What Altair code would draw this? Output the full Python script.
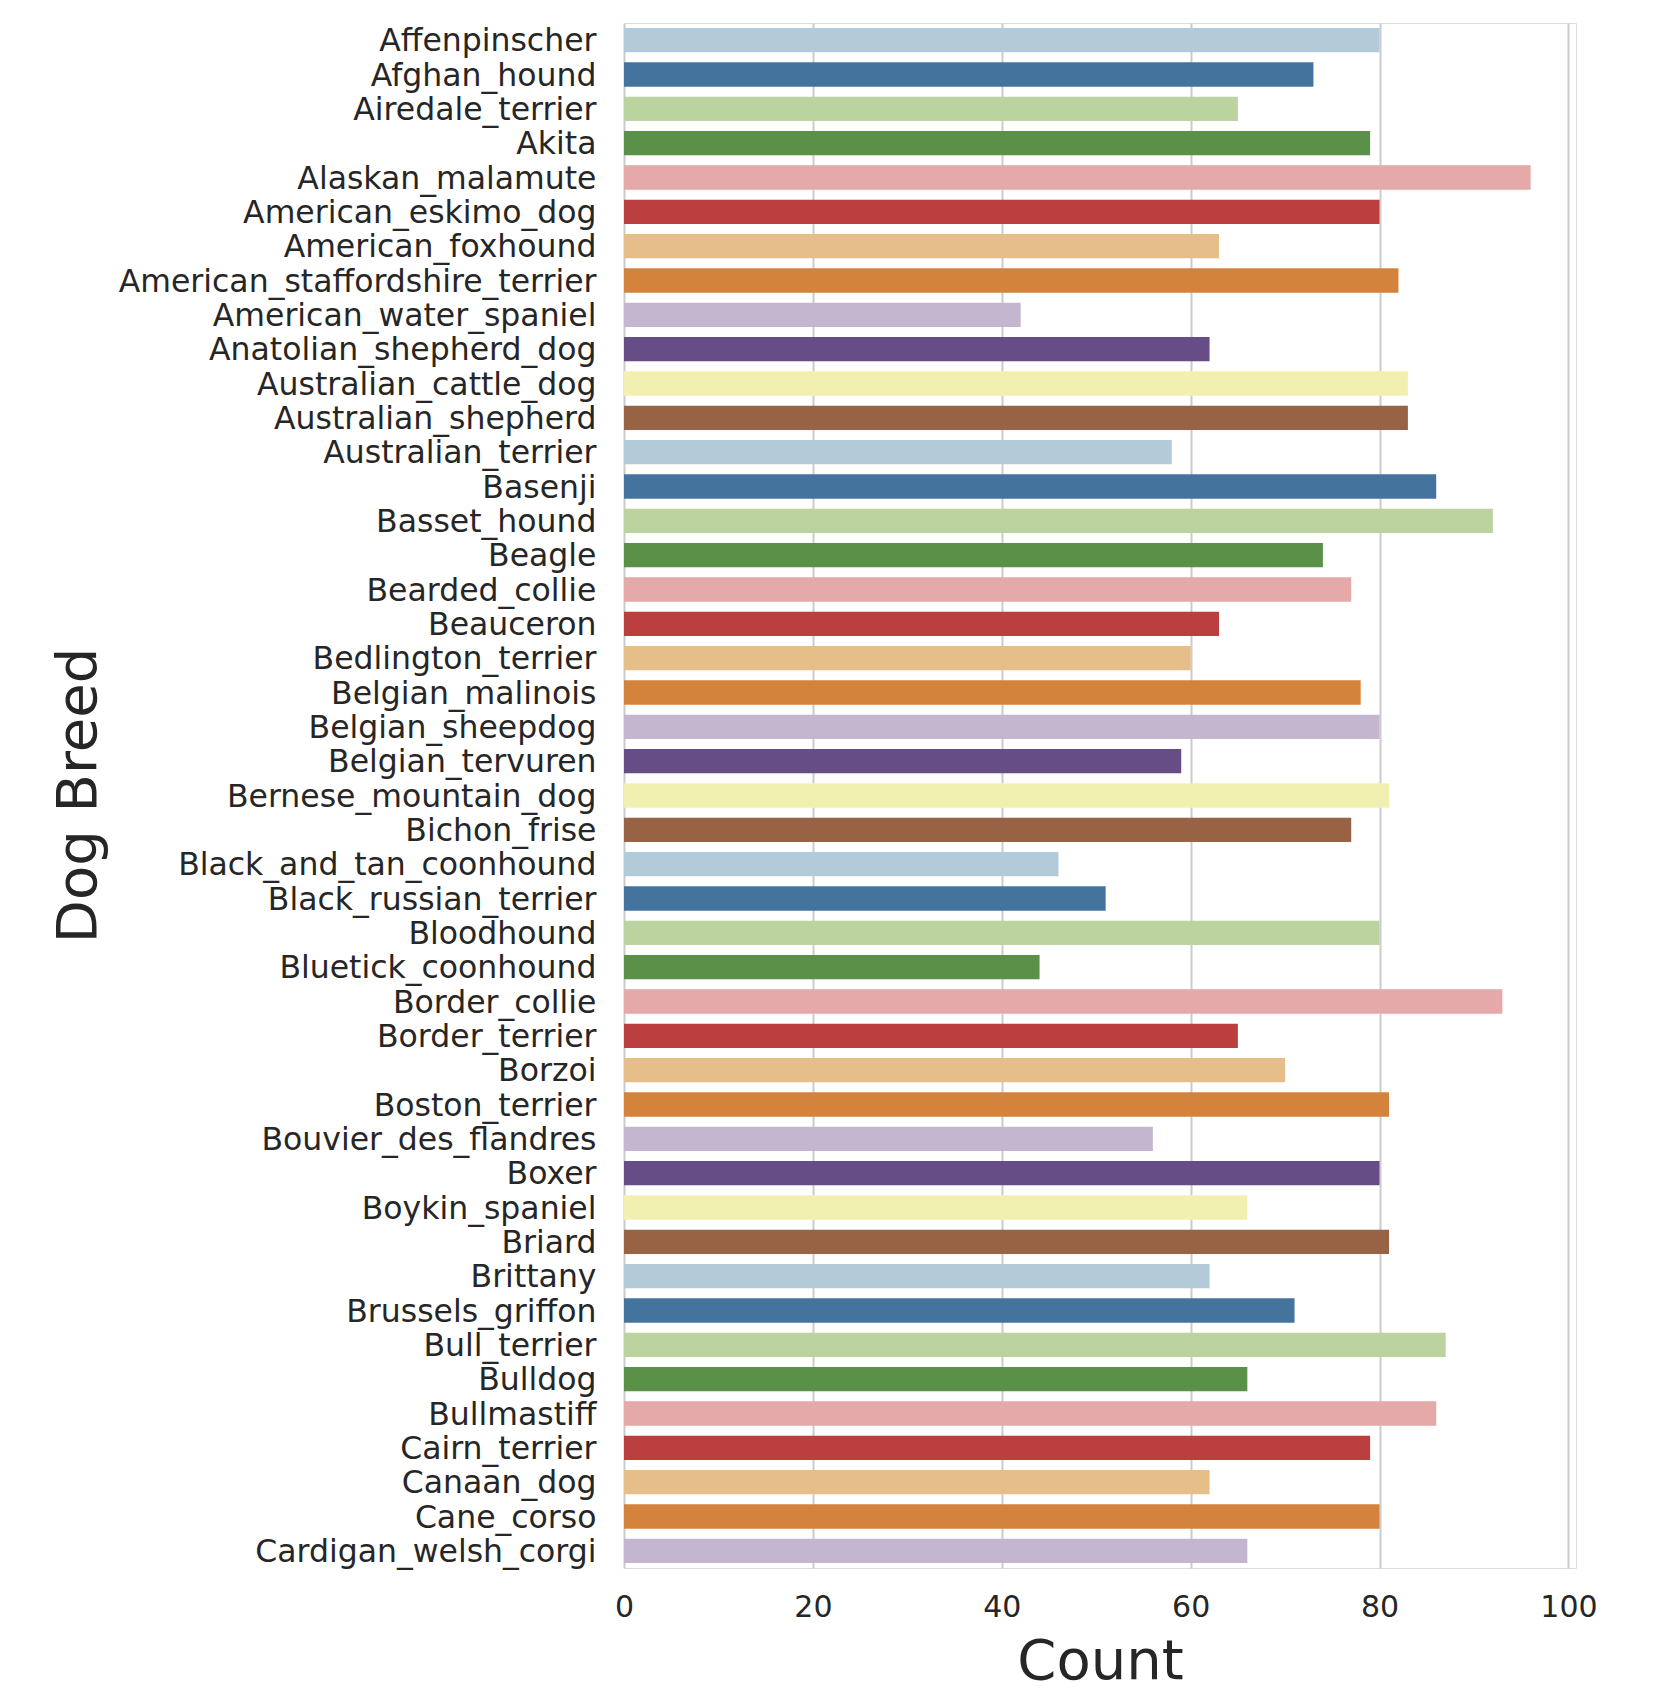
import altair as alt
import pandas as pd

breeds = [
    "Affenpinscher", "Afghan_hound", "Airedale_terrier", "Akita", "Alaskan_malamute",
    "American_eskimo_dog", "American_foxhound", "American_staffordshire_terrier",
    "American_water_spaniel", "Anatolian_shepherd_dog", "Australian_cattle_dog",
    "Australian_shepherd", "Australian_terrier", "Basenji", "Basset_hound", "Beagle",
    "Bearded_collie", "Beauceron", "Bedlington_terrier", "Belgian_malinois",
    "Belgian_sheepdog", "Belgian_tervuren", "Bernese_mountain_dog", "Bichon_frise",
    "Black_and_tan_coonhound", "Black_russian_terrier", "Bloodhound", "Bluetick_coonhound",
    "Border_collie", "Border_terrier", "Borzoi", "Boston_terrier", "Bouvier_des_flandres",
    "Boxer", "Boykin_spaniel", "Briard", "Brittany", "Brussels_griffon", "Bull_terrier",
    "Bulldog", "Bullmastiff", "Cairn_terrier", "Canaan_dog", "Cane_corso",
    "Cardigan_welsh_corgi",
]
counts = [
    80, 73, 65, 79, 96, 80, 63, 82, 42, 62, 83, 83, 58, 86, 92, 74, 77, 63, 60, 78,
    80, 59, 81, 77, 46, 51, 80, 44, 93, 65, 70, 81, 56, 80, 66, 81, 62, 71, 87, 66,
    86, 79, 62, 80, 66,
]
x_ticks = [0, 20, 40, 60, 80, 100]

# muted "Paired" palette as seen in the picture
palette = ["#b3cbd9", "#44749e", "#bbd39e", "#5a9048", "#e4a9a8", "#bb3f3f",
           "#e5be8a", "#d3833c", "#c5b6d0", "#664d86", "#f2f0b0", "#986244"]
colors = [palette[i % len(palette)] for i in range(len(breeds))]

df = pd.DataFrame({"Dog Breed": breeds, "Count": counts})

text_color = "#262626"
font = "DejaVu Sans"

chart = alt.Chart(df).mark_bar().encode(
    x=alt.X(
        "Count:Q",
        scale=alt.Scale(domain=[0, 100.8], nice=False, zero=True),
        axis=alt.Axis(
            values=x_ticks, title="Count", grid=True, gridColor="#cccccc", gridWidth=2,
            domain=False, ticks=False, labelFontSize=30, labelPadding=24,
            labelFlush=False, labelColor=text_color, labelFont=font,
            titleFont=font, titleFontSize=56, titleFontWeight="normal",
            titleColor=text_color, titleY=93, titleBaseline="middle",
        ),
    ),
    y=alt.Y(
        "Dog Breed:N",
        sort=breeds,
        scale=alt.Scale(paddingInner=0.29, paddingOuter=0.145),
        axis=alt.Axis(
            title="Dog Breed", grid=False, domain=False, ticks=False,
            labelFontSize=31.5, labelPadding=28, labelLimit=0, labelOffset=2,
            labelColor=text_color, labelFont=font, titleFont=font, titleFontSize=56,
            titleFontWeight="normal", titleColor=text_color, titleX=-546, titleY=772,
            titleBaseline="middle", titleAlign="center", titleAngle=270,
        ),
    ),
    color=alt.Color("Dog Breed:N", scale=alt.Scale(domain=breeds, range=colors), legend=None),
).properties(
    width=952,
    height=1545,
    autosize=alt.AutoSizeParams(type="none"),
    padding={"left": 616, "top": 15, "right": 70, "bottom": 125},
).configure_view(
    stroke="#cccccc", strokeWidth=2.5
).configure(
    background="white"
)

chart.save("out.html", embed_options={"renderer": "svg", "actions": False})
